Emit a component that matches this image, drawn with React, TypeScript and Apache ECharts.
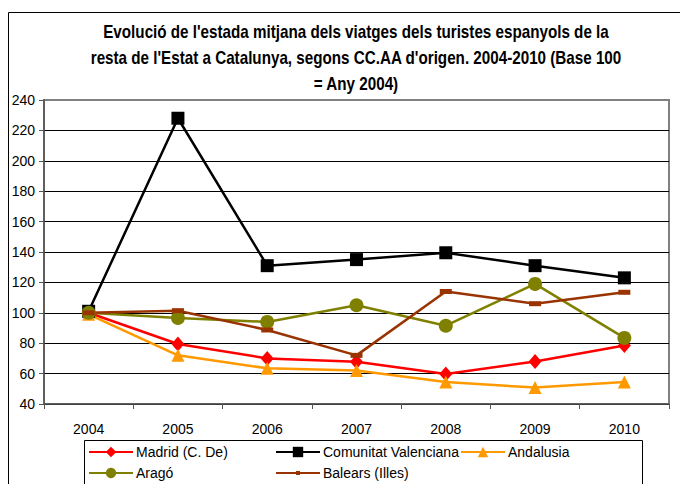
import React, { useEffect, useRef } from "react";
import * as echarts from "echarts";

const years = ["2004", "2005", "2006", "2007", "2008", "2009", "2010"];
const madrid = [100, 79.5, 70, 67.8, 59.7, 68, 78.5];
const valenciana = [101, 228, 131, 135, 139.5, 131, 123];
const andalusia = [99, 72, 63.5, 62, 54.5, 50.8, 54.5];
const arago = [100, 96.6, 94, 105, 91.5, 119, 83.5];
const balears = [100, 101.4, 88.7, 72, 114, 106, 113.5];
const yTicks = { min: 40, max: 240, interval: 20 };
const titleText =
  "Evolució de l'estada mitjana dels viatges dels turistes espanyols de la\nresta de l'Estat a Catalunya, segons CC.AA d'origen. 2004-2010 (Base 100\n= Any 2004)";

const FONT = "'Liberation Sans', Arial, sans-serif";

export default function App() {
  const ref = useRef<HTMLDivElement>(null);
  useEffect(() => {
    if (!ref.current) return;
    const chart = echarts.init(ref.current, undefined, { renderer: "svg" });
    const seriesDefs = [
      { name: "Madrid (C. De)", data: madrid, color: "#FF0000", symbol: "diamond", size: [13, 15], lh: 13 },
      { name: "Comunitat Valenciana", data: valenciana, color: "#000000", symbol: "rect", size: 13, lh: 13 },
      { name: "Andalusia", data: andalusia, color: "#FF9900", symbol: "triangle", size: 13, lh: 13 },
      { name: "Aragó", data: arago, color: "#808000", symbol: "circle", size: 14, lh: 13 },
      { name: "Balears (Illes)", data: balears, color: "#993300", symbol: "rect", size: [12, 5], lh: 5 },
    ];
    const legendPos = [
      { left: 88, top: 445 },
      { left: 275, top: 445 },
      { left: 460, top: 445 },
      { left: 88, top: 466 },
      { left: 275, top: 466 },
    ];
    const splitColors = Array.from({ length: 11 }, (_, i) => (i === 10 ? "#808080" : "#000000"));
    chart.setOption({
      animation: false,
      backgroundColor: "#ffffff",
      graphic: [
        {
          type: "rect",
          shape: { x: 8.5, y: 12.5, width: 700, height: 500 },
          style: { fill: "none", stroke: "#000", lineWidth: 1 },
          z: 0,
        },
        {
          type: "rect",
          shape: { x: 84.5, y: 440.5, width: 558, height: 60 },
          style: { fill: "#fff", stroke: "#000", lineWidth: 1 },
          z: 0,
        },
        {
          type: "text",
          x: 356,
          y: 19,
          scaleX: 0.845,
          style: {
            text: titleText,
            textAlign: "center",
            fontFamily: FONT,
            fontWeight: "bold",
            fontSize: 18,
            lineHeight: 26,
            fill: "#000",
          },
        },
      ],
      legend: seriesDefs.map((s, i) => ({
        data: [s.name],
        left: legendPos[i].left,
        top: legendPos[i].top,
        itemWidth: 44,
        itemHeight: s.lh,
        itemGap: 3,
        padding: 0,
        textStyle: { fontFamily: FONT, fontSize: 14, color: "#000", padding: [0, 0, 0, -2] },
      })),
      grid: { left: 44, right: 11, top: 100, bottom: 80, show: true, borderColor: "#808080", borderWidth: 2 },
      xAxis: {
        type: "category",
        data: years,
        boundaryGap: true,
        axisLine: { lineStyle: { color: "#555", width: 1.5 } },
        axisTick: { show: true, length: 5, lineStyle: { color: "#555" } },
        axisLabel: { fontFamily: FONT, fontSize: 14, color: "#000", margin: 18 },
      },
      yAxis: {
        type: "value",
        min: yTicks.min,
        max: yTicks.max,
        interval: yTicks.interval,
        axisLine: { show: true, lineStyle: { color: "#555", width: 1.5 } },
        axisTick: { show: true, length: 5, lineStyle: { color: "#555" } },
        axisLabel: { fontFamily: FONT, fontSize: 14, color: "#000", margin: 9 },
        splitLine: { show: true, lineStyle: { color: splitColors, width: 1 } },
      },
      series: seriesDefs.map((s) => ({
        name: s.name,
        type: "line",
        data: s.data,
        symbol: s.symbol,
        symbolSize: s.size,
        showAllSymbol: true,
        lineStyle: { color: s.color, width: 2.5 },
        itemStyle: { color: s.color },
        z: 3,
      })),
    });
    return () => chart.dispose();
  }, []);
  return (
    <div
      ref={ref}
      style={{ position: "fixed", left: 0, top: 0, width: 680, height: 484 }}
    />
  );
}
